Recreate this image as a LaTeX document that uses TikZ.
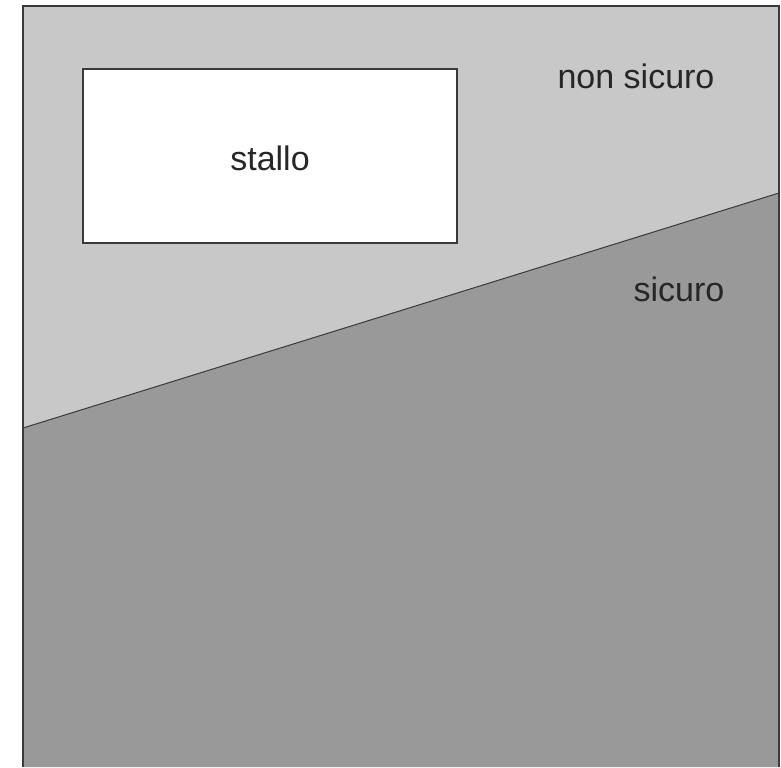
\documentclass[tikz,border=0pt]{standalone}
\usepackage{fontspec}
\setmainfont{Liberation Sans}
\definecolor{nonsicurogray}{HTML}{C8C8C8}
\definecolor{sicurogray}{HTML}{999999}
\definecolor{bordergray}{HTML}{3A3A3A}
\tikzset{
    label text/.style = {font = \fontsize{17}{20}\selectfont, text = black!85},
    region edge/.style = {draw = bordergray, line width = 0.7pt}
}
\begin{document}
\begin{tikzpicture}[x = 0.5pt, y = -0.5pt]
        \useasboundingbox[fill = white] (0,0) rectangle (781,767);
        \fill[nonsicurogray] (23,6) rectangle (779,767);
        \fill[sicurogray] (23,428) -- (779,193) -- (779,767) -- (23,767) -- cycle;
        \draw[region edge, line width = 0.5pt] (23,428) -- (779,193);
        \draw[region edge] (23,767) -- (23,6) -- (779,6) -- (779,767);
        \draw[region edge, fill = white] (83,69) rectangle (457,243);
        \node[label text] (stallo) at (270,158) {stallo};
        \node[label text] (nonsicuro) at (636,76) {non sicuro};
        \node[label text] (sicuro) at (679,289) {sicuro};
    \end{tikzpicture}
\end{document}
